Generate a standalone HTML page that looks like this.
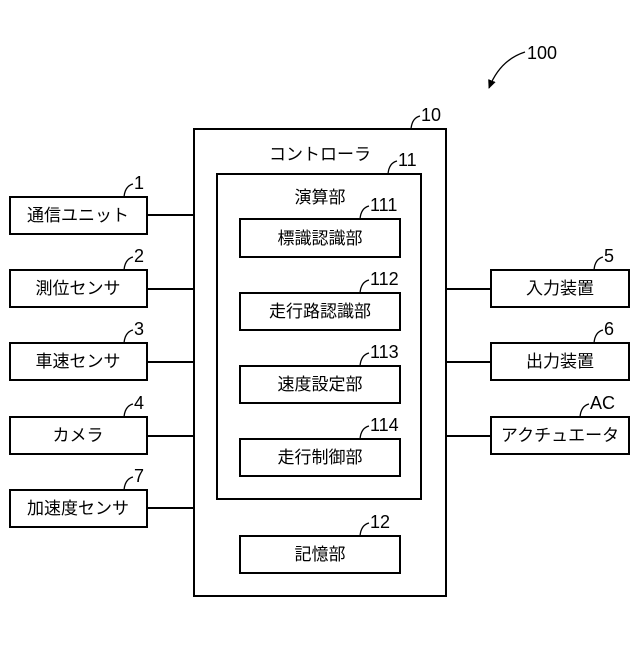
<!DOCTYPE html>
<html><head><meta charset="utf-8"><style>
html,body{margin:0;padding:0;background:#fff}
text{font-family:"Liberation Sans","Noto Sans CJK JP",sans-serif;fill:#000}
</style></head><body>
<svg width="640" height="640" viewBox="0 0 640 640" xmlns="http://www.w3.org/2000/svg">
<defs><marker id="ah" markerWidth="10" markerHeight="10" refX="8" refY="5" orient="auto" markerUnits="userSpaceOnUse"><path d="M0,1 L9,5 L0,9 Z" fill="#000"/></marker></defs>
<g fill="none" stroke="#000" stroke-width="2">
<rect x="194" y="129" width="252" height="467"/>
<rect x="217" y="174" width="204" height="325"/>
<rect x="240" y="219" width="160" height="38"/>
<rect x="240" y="293" width="160" height="37"/>
<rect x="240" y="366" width="160" height="37"/>
<rect x="240" y="439" width="160" height="37"/>
<rect x="240" y="536" width="160" height="37"/>
<rect x="10" y="197" width="137" height="37"/>
<rect x="10" y="270" width="137" height="37"/>
<rect x="10" y="343" width="137" height="37"/>
<rect x="10" y="417" width="137" height="37"/>
<rect x="10" y="490" width="137" height="37"/>
<rect x="491" y="270" width="138" height="37"/>
<rect x="491" y="343" width="138" height="37"/>
<rect x="491" y="417" width="138" height="37"/>
<path d="M147,215H194M147,289H194M147,362H194M147,436H194M147,508H194M446,289H491M446,362H491M446,436H491"/>
</g>
<g fill="none" stroke="#000" stroke-width="1.3">
<path d="M411,129 Q412,118 420,116"/>
<path d="M388,174 Q389,163 397,161"/>
<path d="M360,219 Q361,208 369,206"/>
<path d="M360,293 Q361,282 369,280"/>
<path d="M360,366 Q361,355 369,353"/>
<path d="M360,439 Q361,428 369,426"/>
<path d="M360,536 Q361,525 369,523"/>
<path d="M124,197 Q125,186 133,184"/>
<path d="M124,270 Q125,259 133,257"/>
<path d="M124,343 Q125,332 133,330"/>
<path d="M124,417 Q125,406 133,404"/>
<path d="M124,490 Q125,479 133,477"/>
<path d="M594,270 Q595,259 603,257"/>
<path d="M594,343 Q595,332 603,330"/>
<path d="M580,417 Q581,406 589,404"/>
<path d="M525,52 Q500,60 489,88" marker-end="url(#ah)"/>
</g>
<g font-size="18">
<text x="421" y="121">10</text>
<text x="398" y="166">11</text>
<text x="370" y="211">111</text>
<text x="370" y="285">112</text>
<text x="370" y="358">113</text>
<text x="370" y="431">114</text>
<text x="370" y="528">12</text>
<text x="134" y="189">1</text>
<text x="134" y="262">2</text>
<text x="134" y="335">3</text>
<text x="134" y="409">4</text>
<text x="134" y="482">7</text>
<text x="604" y="262">5</text>
<text x="604" y="335">6</text>
<text x="590" y="409">AC</text>
<text x="527" y="59">100</text>
</g>
<g font-size="17" text-anchor="middle">
<text x="320" y="160">コントローラ</text>
<text x="320" y="203">演算部</text>
<text x="320" y="244">標識認識部</text>
<text x="320" y="317">走行路認識部</text>
<text x="320" y="390">速度設定部</text>
<text x="320" y="463">走行制御部</text>
<text x="320" y="560">記憶部</text>
<text x="78" y="221">通信ユニット</text>
<text x="78" y="294">測位センサ</text>
<text x="78" y="367">車速センサ</text>
<text x="78" y="441">カメラ</text>
<text x="78" y="514">加速度センサ</text>
<text x="560" y="294">入力装置</text>
<text x="560" y="367">出力装置</text>
<text x="560" y="441">アクチュエータ</text>
</g>
</svg>
</body></html>
